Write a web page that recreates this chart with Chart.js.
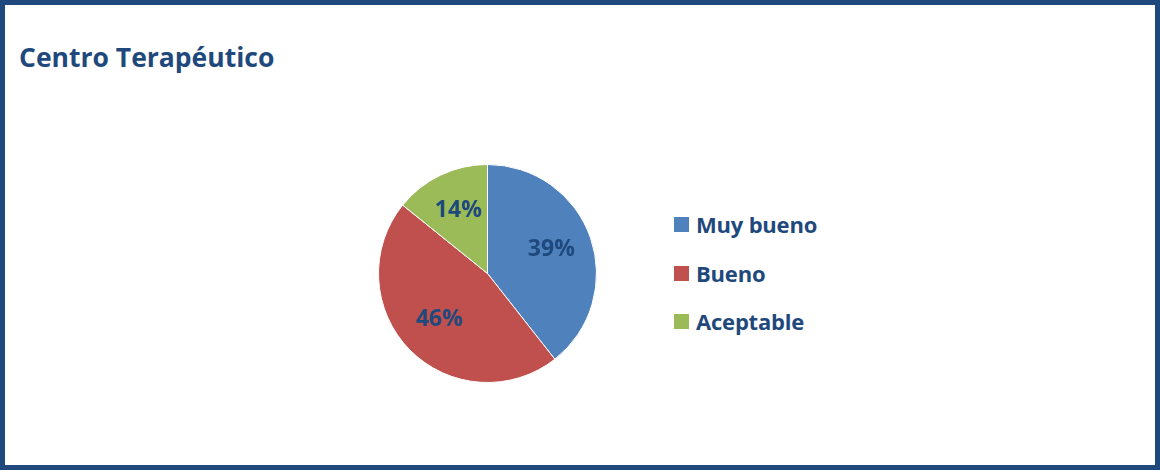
<!DOCTYPE html>
<html>
<head>
<meta charset="utf-8">
<script src="https://cdn.jsdelivr.net/npm/chart.js@4"></script>
<style>
    html, body { margin: 0; padding: 0; background: #fff; }
    #frame {
        position: relative; width: 1160px; height: 470px; box-sizing: border-box;
        border: 5px solid #1F497D; background: #fff;
        font-family: "Open Sans", Lato, sans-serif; color: #1F497D; overflow: hidden;
    }
    #title { position: absolute; left: 14px; top: 34px; font-size: 26.5px; font-weight: bold; white-space: nowrap; }
    #pieWrap { position: absolute; left: 363px; top: 149px; width: 239px; height: 239px; }
    .legendItem { position: absolute; left: 669px; height: 30px; font-size: 22px; font-weight: bold; white-space: nowrap; }
    .legendItem span.box { position: absolute; left: 0; top: 8px; width: 15px; height: 15px; }
    .legendItem span.txt { position: absolute; left: 22px; top: 0; line-height: 30px; letter-spacing: -0.2px; }
</style>
</head>
<body>
<div id="frame">
    <div id="title">Centro Terapéutico</div>
    <div id="pieWrap"><canvas id="pieChart" width="239" height="239"></canvas></div>
    <div id="legend"></div>
</div>
<script>
const chartTitle = 'Centro Terapéutico';
const categories = ['Muy bueno', 'Bueno', 'Aceptable'];
const values = [39.4, 46.4, 14.2];
const colors = ['#4F81BD', '#C0504D', '#9BBB59'];

// percentage labels drawn inside each slice
const sliceLabels = {
    id: 'sliceLabels',
    afterDatasetsDraw(chart) {
        const ctx = chart.ctx;
        const meta = chart.getDatasetMeta(0);
        const total = values.reduce((a, b) => a + b, 0);
        ctx.save();
        ctx.font = 'bold 23px "Open Sans", Lato, sans-serif';
        ctx.fillStyle = '#1F497D';
        ctx.textAlign = 'center';
        ctx.textBaseline = 'middle';
        meta.data.forEach((arc, i) => {
            const p = arc.getProps(['x', 'y', 'startAngle', 'endAngle', 'outerRadius'], true);
            const mid = (p.startAngle + p.endAngle) / 2;
            const r = p.outerRadius * 0.62;
            const pct = Math.round(values[i] / total * 100) + '%';
            ctx.fillText(pct, p.x + Math.cos(mid) * r, p.y + Math.sin(mid) * r - 2);
        });
        ctx.restore();
    }
};

new Chart(document.getElementById('pieChart').getContext('2d'), {
    type: 'pie',
    data: {
        labels: categories,
        datasets: [{ data: values, backgroundColor: colors, borderColor: '#ffffff', borderWidth: 1 }]
    },
    options: {
        responsive: false,
        animation: false,
        layout: { padding: 10 },
        plugins: { legend: { display: false }, tooltip: { enabled: false } }
    },
    plugins: [sliceLabels]
});

document.getElementById('legend').innerHTML = categories.map((c, i) => `
    <div class="legendItem" style="top:${204 + i * 48.5}px;">
        <span class="box" style="background:${colors[i]}"></span><span class="txt">${c}</span>
    </div>`).join('');
</script>
</body>
</html>
